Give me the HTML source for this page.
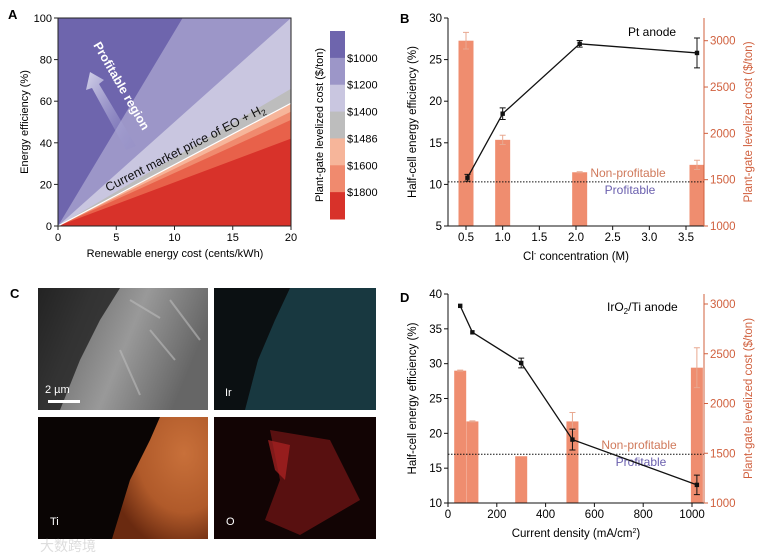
<!DOCTYPE html>
<html><head><meta charset="utf-8"><style>
body{margin:0;background:#fff;width:758px;height:555px;overflow:hidden;font-family:"Liberation Sans","Noto Sans CJK SC",sans-serif}
svg text{font-family:"Liberation Sans","Noto Sans CJK SC",sans-serif}
</style></head><body>
<svg id="fig" width="758" height="555" viewBox="0 0 758 555">
<defs>
<radialGradient id="tiG" cx="0.75" cy="0.3" r="0.8"><stop offset="0" stop-color="#c8703a"/><stop offset="0.6" stop-color="#b05a2a"/><stop offset="1" stop-color="#6a2a10"/></radialGradient>
<linearGradient id="semG" x1="0" y1="0" x2="1" y2="0.3"><stop offset="0" stop-color="#2a2a2a"/><stop offset="0.3" stop-color="#777"/><stop offset="0.6" stop-color="#999"/><stop offset="1" stop-color="#666"/></linearGradient>
<linearGradient id="arrG" x1="0" y1="0" x2="1" y2="1"><stop offset="0" stop-color="#e6e6f4"/><stop offset="1" stop-color="#8a86c6" stop-opacity="0.2"/></linearGradient>
</defs>

<!-- Panel A -->
<g>
<text x="8" y="19" font-size="13" font-weight="bold">A</text>
<g id="aBands"></g>
<g id="aAxes"></g>
<polygon points="86,90 90,72 104,80 99,84 136,146 126,150 92,88" fill="url(#arrG)" opacity="0.85"/>
<text transform="translate(93,45) rotate(60)" font-size="12.5" font-weight="bold" fill="#fff">Profitable region</text>
<text transform="translate(108,192) rotate(-27)" font-size="12.5" fill="#111">Current market price of EO + H<tspan font-size="8.5" dy="3">2</tspan></text>
<text x="175" y="257" font-size="11" text-anchor="middle">Renewable energy cost (cents/kWh)</text>
<text transform="translate(28,122) rotate(-90)" font-size="11" text-anchor="middle">Energy efficiency (%)</text>
<g id="cbar"></g>
<text transform="translate(323,125) rotate(-90)" font-size="11" text-anchor="middle">Plant-gate levelized cost ($/ton)</text>
</g>

<!-- Panel B -->
<g>
<text x="400" y="23" font-size="13" font-weight="bold">B</text>
<g id="bChart"></g>
</g>

<!-- Panel C -->
<g>
<text x="10" y="298" font-size="13" font-weight="bold">C</text>
<rect x="38" y="288" width="170" height="122" fill="url(#semG)"/>
<path d="M38,288 L120,288 L100,320 L80,360 L60,410 L38,410Z" fill="#222" opacity="0.8"/>
<path d="M130,300 L160,318 M150,330 L175,360 M120,350 L140,395 M170,300 L200,340" stroke="#bbb" stroke-width="2" fill="none" opacity="0.6"/>
<text x="45" y="393" font-size="11" fill="#fff">2 µm</text>
<rect x="48" y="400" width="32" height="3" fill="#fff"/>
<rect x="214" y="288" width="162" height="122" fill="#0b1012"/>
<path d="M290,288 L376,288 L376,410 L245,410 L258,360 L275,320Z" fill="#1d4550" opacity="0.75"/>
<text x="225" y="396" font-size="11" fill="#fff">Ir</text>
<rect x="38" y="417" width="170" height="122" fill="#0a0504"/>
<path d="M160,417 L208,417 L208,539 L112,539 L130,480 L150,440Z" fill="url(#tiG)"/>
<text x="50" y="525" font-size="11" fill="#fff">Ti</text>
<rect x="214" y="417" width="162" height="122" fill="#120404"/>
<path d="M270,430 L330,440 L360,500 L300,535 L265,520 L280,480Z" fill="#6a1414" opacity="0.8"/>
<path d="M268,440 L290,445 L285,480 L275,470Z" fill="#b02424" opacity="0.7"/>
<text x="226" y="525" font-size="11" fill="#fff">O</text>
<text x="40" y="551" font-size="14" fill="#ddd">大数跨境</text>
</g>

<!-- Panel D -->
<g>
<text x="400" y="302" font-size="13" font-weight="bold">D</text>
<g id="dChart"></g>
</g>
</svg>
<script>
// Panel A data: boundary efficiencies (%) at 20 cents/kWh, top-down
const aBoundaries=[187,100,66,59,55,51,42];
const aColors=["#6e65ad","#9c96c8","#c9c6e0","#bdbdbd","#f6b59a","#f08a6e","#e8614a","#d8322a"];
const cbarLabels=["$1000","$1200","$1400","$1486","$1600","$1800"];
const cbarColors=["#6e65ad","#9c96c8","#c9c6e0","#bdbdbd","#f6b59a","#f08a6e","#d8322a"];
const aXTicks=[0,5,10,15,20];
const aYTicks=[0,20,40,60,80,100];
// Panel B data
const bX=[0.52,1.0,2.05,3.65];
const bEff=[10.8,18.5,26.9,25.8];
const bEffErr=[0.4,0.7,0.4,1.8];
const bBarX=[0.5,1.0,2.05,3.65];
const bCost=[3000,1930,1580,1660];
const bCostErr=[90,50,5,50];
const bXTicks=[0.5,1.0,1.5,2.0,2.5,3.0,3.5];
const bYTicks=[5,10,15,20,25,30];
const bRTicks=[1000,1500,2000,2500,3000];
const bThreshold=10.3;
// Panel D data
const dX=[50,100,300,510,1020];
const dEff=[38.3,34.5,30.1,19.1,12.6];
const dEffErr=[0,0,0.7,1.5,1.4];
const dBarX=[50,100,300,510,1020];
const dCost=[2330,1820,1470,1820,2360];
const dCostErr=[5,5,0,90,200];
const dXTicks=[0,200,400,600,800,1000];
const dYTicks=[10,15,20,25,30,35,40];
const dRTicks=[1000,1500,2000,2500,3000];
const dThreshold=17;

const NS="http://www.w3.org/2000/svg";
function mk(p,t,a){const e=document.createElementNS(NS,t);for(const k in a)e.setAttribute(k,a[k]);p.appendChild(e);return e;}
function lin(d0,d1,r0,r1){return v=>r0+(v-d0)/(d1-d0)*(r1-r0);}

// Panel A
(function(){
 const g=document.getElementById('aBands');
 const X=lin(0,20,58,291),Y=lin(0,100,226,18);
 mk(g,'rect',{x:58,y:18,width:233,height:208,fill:aColors[0]});
 aBoundaries.forEach((b,i)=>{
  const ex=b>100?20*100/b:20;
  let pts;
  if(b>100) pts=`${X(0)},${Y(0)} ${X(ex)},${Y(100)} ${X(20)},${Y(100)} ${X(20)},${Y(0)}`;
  else pts=`${X(0)},${Y(0)} ${X(20)},${Y(b)} ${X(20)},${Y(0)}`;
  const p=mk(g,'polygon',{points:pts,fill:aColors[i+1]});
  
  
 });
 const wl=mk(g,'line',{x1:X(0),y1:Y(0),x2:X(20),y2:Y(aBoundaries[3]),stroke:'#fff','stroke-width':1.2});
 
 
 const ax=document.getElementById('aAxes');
 mk(ax,'rect',{x:58,y:18,width:233,height:208,fill:'none',stroke:'#222','stroke-width':1});
 aXTicks.forEach(v=>{mk(ax,'line',{x1:X(v),x2:X(v),y1:226,y2:230,stroke:'#222'});const t=mk(ax,'text',{x:X(v),y:241,'font-size':11,'text-anchor':'middle'});t.textContent=v;
  
  });
 aYTicks.forEach(v=>{mk(ax,'line',{x1:54,x2:58,y1:Y(v),y2:Y(v),stroke:'#222'});const t=mk(ax,'text',{x:52,y:Y(v)+4,'font-size':11,'text-anchor':'end'});t.textContent=v;
  
  });
 const c=document.getElementById('cbar');
 const h=(219-31)/cbarColors.length;
 cbarColors.forEach((col,i)=>{const r=mk(c,'rect',{x:330,y:31+i*h,width:15,height:h+0.5,fill:col});
  
  });
 cbarLabels.forEach((l,i)=>{const t=mk(c,'text',{x:347,y:31+(i+1)*h+4,'font-size':11});t.textContent=l;
  
  });
})();

function dual(id,o){
 const g=document.getElementById(id);
 const X=lin(o.xd[0],o.xd[1],o.xr[0],o.xr[1]);
 const Y=lin(o.yd[0],o.yd[1],o.B,o.T);
 const R=lin(o.rd[0],o.rd[1],o.rr[0],o.rr[1]);
 const sal="#ef8d6f",red="#d0603e";
 o.barX.forEach((x,i)=>{
  const bx=X(x)-o.bw/2, top=R(o.cost[i]);
  const r=mk(g,'rect',{x:bx,y:top,width:o.bw,height:o.B-top,fill:sal});
  
  
  if(o.costErr[i]>0){const y1=R(o.cost[i]+o.costErr[i]),y2=R(o.cost[i]-o.costErr[i]);
   mk(g,'path',{d:`M${X(x)},${y1}V${y2}M${X(x)-3},${y1}h6M${X(x)-3},${y2}h6`,stroke:'#e8a890','stroke-width':1,fill:'none'});}
 });
 const th=mk(g,'line',{x1:o.xr0,x2:o.xr1,y1:Y(o.th),y2:Y(o.th),stroke:'#111','stroke-dasharray':'1.5,1.5','stroke-width':1});
 
 
 let t=mk(g,'text',{x:o.npx,y:Y(o.th)-5,'font-size':12,fill:'#d07a5c','text-anchor':'middle'});t.textContent='Non-profitable';
 
 
 t=mk(g,'text',{x:o.npx+2,y:Y(o.th)+12,'font-size':12,fill:'#6a5fae','text-anchor':'middle'});t.textContent='Profitable';
 
 
 const pl=mk(g,'polyline',{points:o.x.map((x,i)=>X(x)+','+Y(o.eff[i])).join(' '),fill:'none',stroke:'#111','stroke-width':1.3});
 
 
 o.x.forEach((x,i)=>{
  if(o.effErr[i]>0){const y1=Y(o.eff[i]+o.effErr[i]),y2=Y(o.eff[i]-o.effErr[i]);
   mk(g,'path',{d:`M${X(x)},${y1}V${y2}M${X(x)-3},${y1}h6M${X(x)-3},${y2}h6`,stroke:'#111','stroke-width':1,fill:'none'});}
  const m=mk(g,'rect',{x:X(x)-2.2,y:Y(o.eff[i])-2.2,width:4.4,height:4.4,fill:'#111'});
  
  
 });
 mk(g,'path',{d:`M${o.xr0},${o.T}V${o.B}H${o.xr1}`,stroke:'#111',fill:'none'});
 mk(g,'line',{x1:o.xr1,x2:o.xr1,y1:o.T,y2:o.B,stroke:red});
 o.xt.forEach(v=>{mk(g,'line',{x1:X(v),x2:X(v),y1:o.B,y2:o.B+4,stroke:'#111'});const s=mk(g,'text',{x:X(v),y:o.B+15,'font-size':11.5,'text-anchor':'middle'});s.textContent=o.xf(v);
  
  });
 o.yt.forEach(v=>{mk(g,'line',{x1:o.xr0-4,x2:o.xr0,y1:Y(v),y2:Y(v),stroke:'#111'});const s=mk(g,'text',{x:o.xr0-6,y:Y(v)+4,'font-size':11.5,'text-anchor':'end'});s.textContent=v;
  
  });
 o.rt.forEach(v=>{mk(g,'line',{x1:o.xr1,x2:o.xr1+4,y1:R(v),y2:R(v),stroke:red});const s=mk(g,'text',{x:o.xr1+6,y:R(v)+4,'font-size':11.5,fill:red});s.textContent=v;
  
  });
 t=mk(g,'text',{x:(o.xr0+o.xr1)/2,y:o.B+34,'font-size':11.5,'text-anchor':'middle'});t.innerHTML=o.xtitle;
 
 
 t=mk(g,'text',{transform:`translate(416,${(o.T+o.B)/2}) rotate(-90)`,'font-size':11.5,'text-anchor':'middle'});t.textContent='Half-cell energy efficiency (%)';
 
 
 t=mk(g,'text',{transform:`translate(752,${(o.T+o.B)/2}) rotate(-90)`,'font-size':11.5,fill:red,'text-anchor':'middle'});t.textContent='Plant-gate levelized cost ($/ton)';
 
 
 t=mk(g,'text',{x:o.lx,y:o.ly,'font-size':12});t.innerHTML=o.label;
 
 
}
dual('bChart',{xd:[0.5,3.5],xr:[466,686],yd:[5,30],T:18,B:226,rd:[1000,3000],rr:[226,40.7],xr0:448,xr1:704,bw:15,
 x:bX,eff:bEff,effErr:bEffErr,barX:bBarX,cost:bCost,costErr:bCostErr,th:bThreshold,npx:628,xt:bXTicks,yt:bYTicks,rt:bRTicks,
 xf:v=>v.toFixed(1),xtitle:'Cl<tspan font-size="7" dy="-4">-</tspan><tspan dy="4"> concentration (M)</tspan>',label:'Pt anode',lx:628,ly:36});
dual('dChart',{xd:[0,1000],xr:[448,692],yd:[10,40],T:294,B:503,rd:[1000,3000],rr:[503,304],xr0:448,xr1:704,bw:12,
 x:dX,eff:dEff,effErr:dEffErr,barX:dBarX,cost:dCost,costErr:dCostErr,th:dThreshold,npx:639,xt:dXTicks,yt:dYTicks,rt:dRTicks,
 xf:v=>v,xtitle:'Current density (mA/cm<tspan font-size="7" dy="-4">2</tspan><tspan dy="4">)</tspan>',label:'IrO<tspan font-size="8" dy="3">2</tspan><tspan dy="-3">/Ti anode</tspan>',lx:607,ly:311});
</script>
</body></html>
